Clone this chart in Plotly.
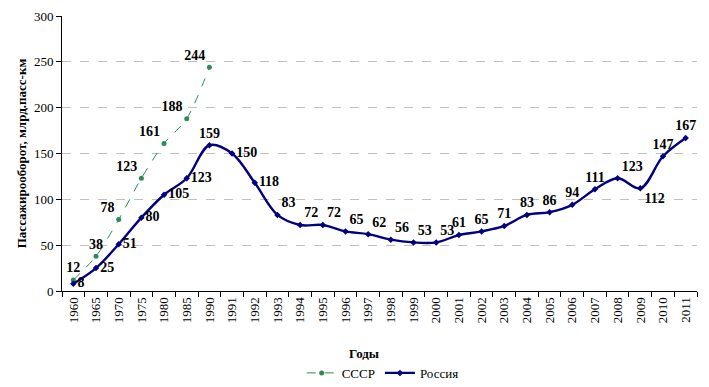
import plotly.graph_objects as go

years = ["1960", "1965", "1970", "1975", "1980", "1985", "1990", "1991", "1992", "1993",
         "1994", "1995", "1996", "1997", "1998", "1999", "2000", "2001", "2002", "2003",
         "2004", "2005", "2006", "2007", "2008", "2009", "2010", "2011"]
ussr_years = years[:7]
ussr = [12, 38, 78, 123, 161, 188, 244]
russia = [8, 25, 51, 80, 105, 123, 159, 150, 118, 83, 72, 72, 65, 62, 56, 53, 53, 61, 65,
          71, 83, 86, 94, 111, 123, 112, 147, 167]
y_ticks = [0, 50, 100, 150, 200, 250, 300]

ussr_pos = ["top center", "top center", "top left", "top left", "top left", "top left",
            "top left"]
russia_pos = (["middle right"] * 6 + ["top center", "middle right", "middle right"]
              + ["top right"] * 8 + ["top center"] * 7
              + ["top right", "bottom right", "top center", "top center"])

serif = "Liberation Serif"

fig = go.Figure()
fig.add_trace(go.Scatter(
    x=ussr_years, y=ussr, name="СССР", mode="lines+markers+text",
    line=dict(color="#2e8b57", width=1, dash="dash", shape="spline", smoothing=0.8),
    marker=dict(symbol="circle", size=5, color="#2e8b57"),
    text=[str(v) for v in ussr], textposition=ussr_pos,
    textfont=dict(family=serif, size=14, color="black", weight="bold"),
    cliponaxis=False,
))
fig.add_trace(go.Scatter(
    x=years, y=russia, name="Россия", mode="lines+markers+text",
    line=dict(color="#000080", width=2.4, shape="spline", smoothing=1.0),
    marker=dict(symbol="diamond", size=5, color="#000080"),
    text=[str(v) for v in russia], textposition=russia_pos,
    textfont=dict(family=serif, size=14, color="black", weight="bold"),
    cliponaxis=False,
))

fig.update_layout(
    width=701, height=379,
    margin=dict(l=54, r=12, t=8, b=96, autoexpand=False),
    paper_bgcolor="white", plot_bgcolor="white",
    font=dict(family=serif, size=13, color="black"),
    showlegend=True,
    legend=dict(orientation="h", x=0.505, xanchor="center", y=-0.298, yanchor="middle",
                font=dict(family=serif, size=13), itemwidth=30),
    xaxis=dict(type="category", categoryorder="array", categoryarray=years,
               tickangle=-90, showline=True, linecolor="black", linewidth=1,
               ticks="outside", ticklen=5, tickcolor="black", tickson="boundaries",
               showgrid=False, tickfont=dict(family=serif, size=13), automargin=False,
               range=[-0.5, len(years) - 0.5]),
    yaxis=dict(range=[0, 300], tickvals=y_ticks, showline=True, linecolor="black",
               linewidth=1, ticks="outside", ticklen=5, tickcolor="black",
               showgrid=True, gridcolor="#c0c0c0", griddash="dash", gridwidth=1,
               zeroline=False, tickfont=dict(family=serif, size=13), automargin=False,
               title=dict(text="<b>Пассажирооборот, млрд.пасс-км</b>",
                          font=dict(family=serif, size=13), standoff=4)),
    annotations=[dict(text="<b>Годы</b>", xref="paper", yref="paper", x=0.475, y=-0.229,
                      showarrow=False, font=dict(family=serif, size=13),
                      xanchor="center", yanchor="middle")],
)

fig.write_html("out.html")
